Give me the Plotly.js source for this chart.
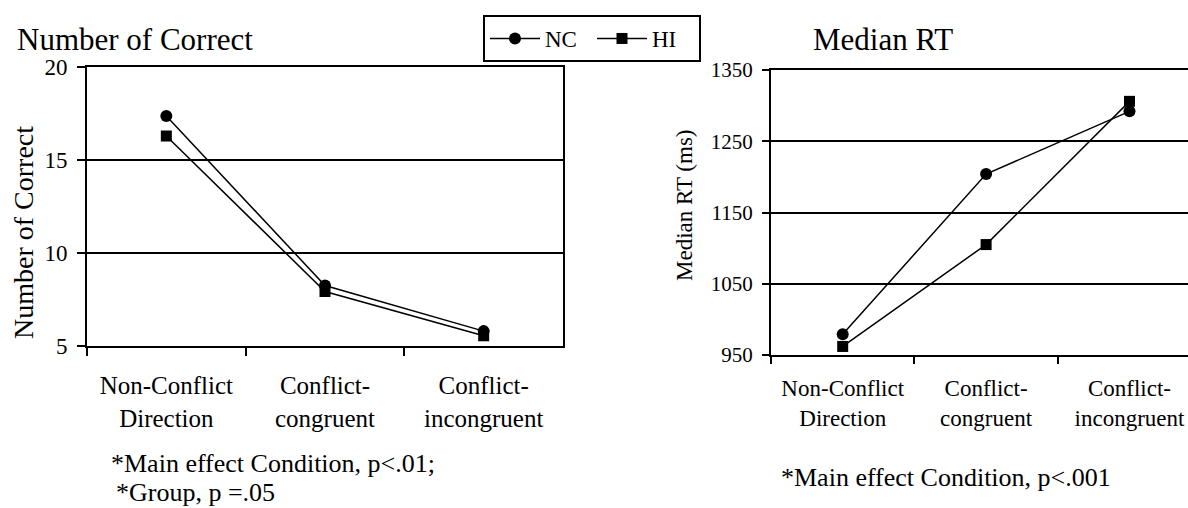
<!DOCTYPE html>
<html><head><meta charset="utf-8">
<script src="https://cdn.plot.ly/plotly-3.0.1.min.js"></script>
<style>html,body{margin:0;padding:0;background:#fff}#chart{width:1188px;height:508px}</style>
</head><body><div id="chart"></div><script>
const categories = ["Non-Conflict<br>Direction", "Conflict-<br>congruent", "Conflict-<br>incongruent"];
const seriesNames = ["NC", "HI"];
const correctNC = [17.37, 8.25, 5.8];
const correctHI = [16.29, 7.93, 5.55];
const rtNC = [979, 1204, 1292];
const rtHI = [962, 1105, 1306];
const correctTicks = [5, 10, 15, 20];
const rtTicks = [950, 1050, 1150, 1250, 1350];
const titles = ["Number of Correct", "Median RT"];
const axisTitles = ["Number of Correct", "Median RT (ms)"];
const notes = ["*Main effect Condition, p<.01;", "*Group, p =.05", "*Main effect Condition, p<.001"];

const FONT = "Liberation Serif, Times New Roman, serif";
const W = 1188, H = 508;
const px = v => v / W, py = v => 1 - v / H;

function tr(x, y, name, symbol, size, xa, ya, show) {
  return {
    x: x, y: y, name: name, type: "scatter", mode: "lines+markers",
    xaxis: xa, yaxis: ya, showlegend: show,
    line: {color: "#000", width: 1.5},
    marker: {symbol: symbol, size: size, color: "#000"}
  };
}
const data = [
  tr(categories, correctNC, seriesNames[0], "circle", 12, "x", "y", true),
  tr(categories, correctHI, seriesNames[1], "square", 11, "x", "y", true),
  tr(categories, rtNC, seriesNames[0], "circle", 12, "x2", "y2", false),
  tr(categories, rtHI, seriesNames[1], "square", 11, "x2", "y2", false)
];

const axBase = {
  showline: true, linecolor: "#000", linewidth: 2,
  ticks: "outside", tickcolor: "#000", tickwidth: 2,
  zeroline: false, fixedrange: true
};
function ann(text, x, y, size, opts) {
  return Object.assign({text: text, xref: "paper", yref: "paper", x: px(x), y: py(y),
    xanchor: "left", yanchor: "middle", showarrow: false, borderpad: 0,
    font: {family: FONT, size: size, color: "#000"}}, opts || {});
}
const layout = {
  width: W, height: H,
  margin: {l: 0, r: 0, t: 0, b: 0},
  paper_bgcolor: "#fff", plot_bgcolor: "#fff",
  font: {family: FONT, color: "#000"},
  showlegend: true,
  legend: {
    orientation: "h", x: px(483), y: py(15), xanchor: "left", yanchor: "top",
    bordercolor: "#000", borderwidth: 2, bgcolor: "#fff",
    itemwidth: 50, entrywidth: 42, entrywidthmode: "pixels",
    font: {family: FONT, size: 23, color: "#000"}, traceorder: "normal"
  },
  xaxis: Object.assign({}, axBase, {
    domain: [px(87), px(563)], anchor: "y", type: "category",
    categoryarray: categories, range: [-0.5, 2.5], tickson: "boundaries",
    ticklen: 8, mirror: true, showgrid: false, ticklabelstandoff: 16,
    tickfont: {family: FONT, size: 25}
  }),
  yaxis: Object.assign({}, axBase, {
    domain: [py(346), py(67)], anchor: "x", range: [5, 20],
    tickvals: correctTicks, ticklen: 8, mirror: true, ticklabelstandoff: 5,
    showgrid: true, gridcolor: "#000", gridwidth: 2,
    tickfont: {family: FONT, size: 23}
  }),
  xaxis2: Object.assign({}, axBase, {
    domain: [px(771), 1], anchor: "y2", type: "category",
    categoryarray: categories, range: [-0.5, 2.408], tickson: "boundaries",
    ticklen: 7, mirror: true, showgrid: false, ticklabelstandoff: 11,
    tickfont: {family: FONT, size: 23}
  }),
  yaxis2: Object.assign({}, axBase, {
    domain: [py(355), py(70)], anchor: "x2", range: [950, 1350],
    tickvals: rtTicks, ticklen: 7, ticklabelstandoff: 5,
    showgrid: true, gridcolor: "#000", gridwidth: 2,
    tickfont: {family: FONT, size: 21}
  }),
  annotations: [
    ann(titles[0], 16, 40, 31),
    ann(titles[1], 812, 40, 31),
    ann(axisTitles[0], 23, 233, 28, {textangle: -90, xanchor: "center"}),
    ann(axisTitles[1], 685, 205, 23, {textangle: -90, xanchor: "center"}),
    ann(notes[0], 110, 463, 26),
    ann(notes[1], 115, 492, 26),
    ann(notes[2], 780, 477, 26)
  ]
};
Plotly.newPlot("chart", data, layout, {staticPlot: true, displayModeBar: false});
</script></body></html>
